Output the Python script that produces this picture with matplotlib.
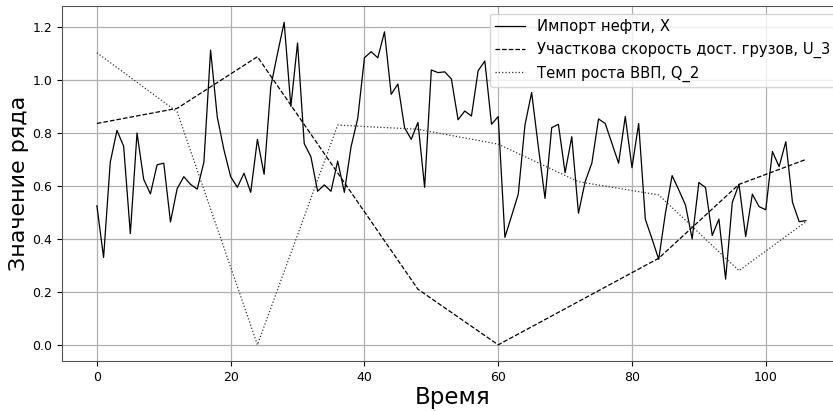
import matplotlib
matplotlib.use("Agg")
import matplotlib.pyplot as plt
import numpy as np

# Импорт нефти, X (шаг по времени = 1)
oil_import = [
    0.525, 0.33, 0.69, 0.81, 0.75, 0.42, 0.80, 0.625, 0.57, 0.68,
    0.686, 0.464, 0.59, 0.635, 0.606, 0.588, 0.69, 1.113, 0.86, 0.736,
    0.635, 0.595, 0.648, 0.576, 0.776, 0.644, 0.975, 1.10, 1.218, 0.90,
    1.14, 0.76, 0.71, 0.58, 0.604, 0.58, 0.694, 0.576, 0.748, 0.855,
    1.084, 1.107, 1.084, 1.182, 0.946, 0.985, 0.82, 0.776, 0.84, 0.595,
    1.038, 1.028, 1.031, 1.004, 0.85, 0.883, 0.864, 1.035, 1.072, 0.833,
    0.862, 0.406, 0.487, 0.569, 0.83, 0.953, 0.748, 0.553, 0.82, 0.833,
    0.65, 0.786, 0.497, 0.616, 0.686, 0.853, 0.836, 0.761, 0.686, 0.862,
    0.669, 0.836, 0.474, 0.40, 0.323, 0.497, 0.639, 0.585, 0.528, 0.40,
    0.613, 0.594, 0.413, 0.475, 0.248, 0.538, 0.606, 0.409, 0.569, 0.522,
    0.51, 0.73, 0.673, 0.767, 0.538, 0.465, 0.469,
]
t_oil = np.arange(len(oil_import))

# Участковая скорость доставки грузов, U_3
t_speed = [0, 12, 24, 48, 60, 84, 96, 106]
speed = [0.836, 0.893, 1.088, 0.21, 0.0, 0.327, 0.606, 0.70]

# Темп роста ВВП, Q_2
t_gdp = [0, 12, 24, 36, 48, 60, 72, 84, 96, 106]
gdp = [1.103, 0.88, 0.0, 0.83, 0.814, 0.758, 0.616, 0.566, 0.28, 0.465]

plt.rcParams.update({
    'font.family': 'DejaVu Sans',
    'axes.edgecolor': '#555555',
    'grid.color': '#b0b0b0',
    'grid.linewidth': 0.9,
})

fig = plt.figure(figsize=(8.33, 4.11), dpi=100)
ax = fig.add_axes([0.0744, 0.1217, 0.938, 0.8633])

ax.plot(t_oil, oil_import, color='black', lw=0.9, ls='-', label='Импорт нефти, X')
ax.plot(t_speed, speed, color='black', lw=0.9, ls='--',
        label='Участкова скорость дост. грузов, U_3')
ax.plot(t_gdp, gdp, color='#333333', lw=0.9, ls=':', label='Темп роста ВВП, Q_2')

ax.set_xlim(-5.22, 111.6)
ax.set_ylim(-0.061, 1.279)
ax.set_xticks([0, 20, 40, 60, 80, 100])
ax.set_yticks([0.0, 0.2, 0.4, 0.6, 0.8, 1.0, 1.2])
ax.tick_params(labelsize=9)
ax.grid(True)

ax.set_xlabel('Время', fontsize=16.5, labelpad=2)
ax.set_ylabel('Значение ряда', fontsize=16, labelpad=2)

ax.legend(loc='upper right', fontsize=10.6, borderaxespad=0.5)

fig.savefig('out.png', dpi=100)
